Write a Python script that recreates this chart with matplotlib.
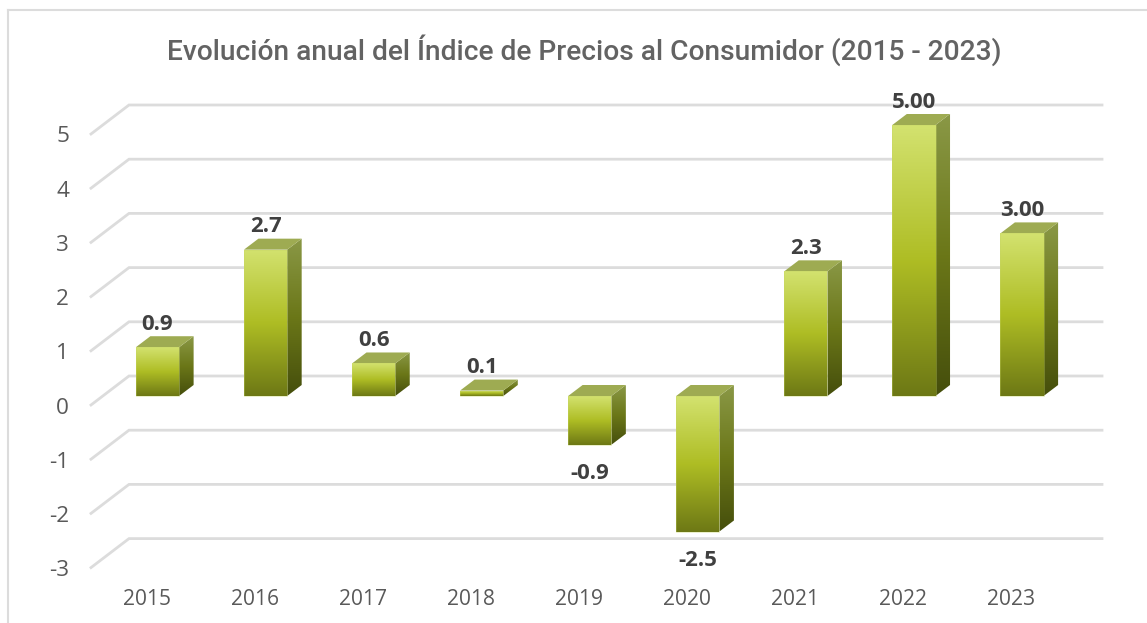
#!/usr/bin/python3
# -*- coding:utf-8 -*-
import numpy as np
import matplotlib
matplotlib.use('Agg')
import matplotlib.pyplot as plt
from matplotlib.colors import LinearSegmentedColormap
from matplotlib.patches import Polygon

years = ['2015', '2016', '2017', '2018', '2019', '2020', '2021', '2022', '2023']
values = [0.9, 2.7, 0.6, 0.1, -0.9, -2.5, 2.3, 5.0, 3.0]
value_labels = ['0.9', '2.7', '0.6', '0.1', '-0.9', '-2.5', '2.3', '5.00', '3.00']
y_ticks = [-3, -2, -1, 0, 1, 2, 3, 4, 5]
title = 'Evolución anual del Índice de Precios al Consumidor (2015 - 2023)'

W, H = 1147, 623
x0_px, x_step = 157.5, 108.06
y0_px, y_step = 396.0, 54.2

bar_w = 0.40
bar_dx = 14.5 / x_step
bar_dy = 11.0 / y_step

front_cmap = LinearSegmentedColormap.from_list('front', [(0, '#d3e26f'), (0.5, '#aebd24'), (1, '#6d7815')])
side_cmap = LinearSegmentedColormap.from_list('side', [(0, '#8a9846'), (0.5, '#6b7718'), (1, '#454e0c')])
top_color = '#9eab52'
grid_color = '#dcdcdc'
text_color = '#595959'

fig = plt.figure(figsize=(W / 100, H / 100), dpi=100)
ax = fig.add_axes([0, 0, 1, 1])
ax.set_xlim(-x0_px / x_step, (W - x0_px) / x_step)
ax.set_ylim((y0_px - H) / y_step, y0_px / y_step)
ax.axis('off')

# chart frame, only left and top show in the crop
ax.plot([(8 - x0_px) / x_step] * 2, [(y0_px - 10) / y_step, (y0_px - H) / y_step], color=grid_color, lw=1.5)
ax.plot([(8 - x0_px) / x_step, (W - x0_px) / x_step], [(y0_px - 10) / y_step] * 2, color=grid_color, lw=1.5)

# gridlines with the 3d floor slant
grid_left = (91 - x0_px) / x_step
grid_back = (129 - x0_px) / x_step
grid_right = (1102 - x0_px) / x_step
front_off = -9.0 / y_step
back_off = 20.0 / y_step
for t in y_ticks:
    ax.plot([grid_left, grid_back, grid_right], [t + front_off, t + back_off, t + back_off],
            color=grid_color, lw=2.0, solid_joinstyle='miter', zorder=1)
    ax.text((69 - x0_px) / x_step, t + front_off - 3.0 / y_step, str(t), ha='right', va='center',
            fontsize=16.2, color=text_color, family='Open Sans')


def grad_fill(pts, cmap, ylow, yhigh, z):
    poly = Polygon(pts, closed=True, facecolor='none', edgecolor='none', zorder=z)
    ax.add_patch(poly)
    g = np.linspace(0, 1, 256).reshape(-1, 1)
    xs = [p[0] for p in pts]
    im = ax.imshow(g, cmap=cmap, aspect='auto', zorder=z, interpolation='bilinear',
                   extent=(min(xs), max(xs), ylow, yhigh), origin='upper')
    im.set_clip_path(poly)


for i, v in enumerate(values):
    xl, xr = i - bar_w / 2, i + bar_w / 2
    lo, hi = min(v, 0), max(v, 0)
    grad_fill([(xr, lo), (xr + bar_dx, lo + bar_dy), (xr + bar_dx, hi + bar_dy), (xr, hi)],
              side_cmap, lo, hi + bar_dy, 3)
    ax.add_patch(Polygon([(xl, hi), (xl + bar_dx, hi + bar_dy), (xr + bar_dx, hi + bar_dy), (xr, hi)],
                         closed=True, facecolor=top_color, edgecolor='none', zorder=3))
    grad_fill([(xl, lo), (xr, lo), (xr, hi), (xl, hi)], front_cmap, lo, hi, 4)
    ax.add_patch(Polygon([(xl, lo), (xr, lo), (xr, hi), (xl, hi)], closed=True, facecolor='none',
                         edgecolor='#c6d566', lw=0.6, alpha=0.4, zorder=5))
    if v >= 0:
        ty = hi + bar_dy + 12 / y_step
    else:
        ty = lo - 29 / y_step
    ax.text(i, ty, value_labels[i], ha='center', va='center', fontsize=16, fontweight='bold',
            color='#404040', family='Open Sans', zorder=6)
    ax.text(i - 0.1, -3 + front_off - 32 / y_step, years[i], ha='center', va='center', fontsize=15.1,
            color=text_color, family='Open Sans')

ax.set_xlim(-x0_px / x_step, (W - x0_px) / x_step)
ax.set_ylim((y0_px - H) / y_step, y0_px / y_step)
ax.text((584 - x0_px) / x_step, (y0_px - 50) / y_step, title, ha='center', va='center', fontsize=20.25,
        color='#636363', family='Roboto', fontweight='medium')

fig.savefig('out.png', dpi=100)
